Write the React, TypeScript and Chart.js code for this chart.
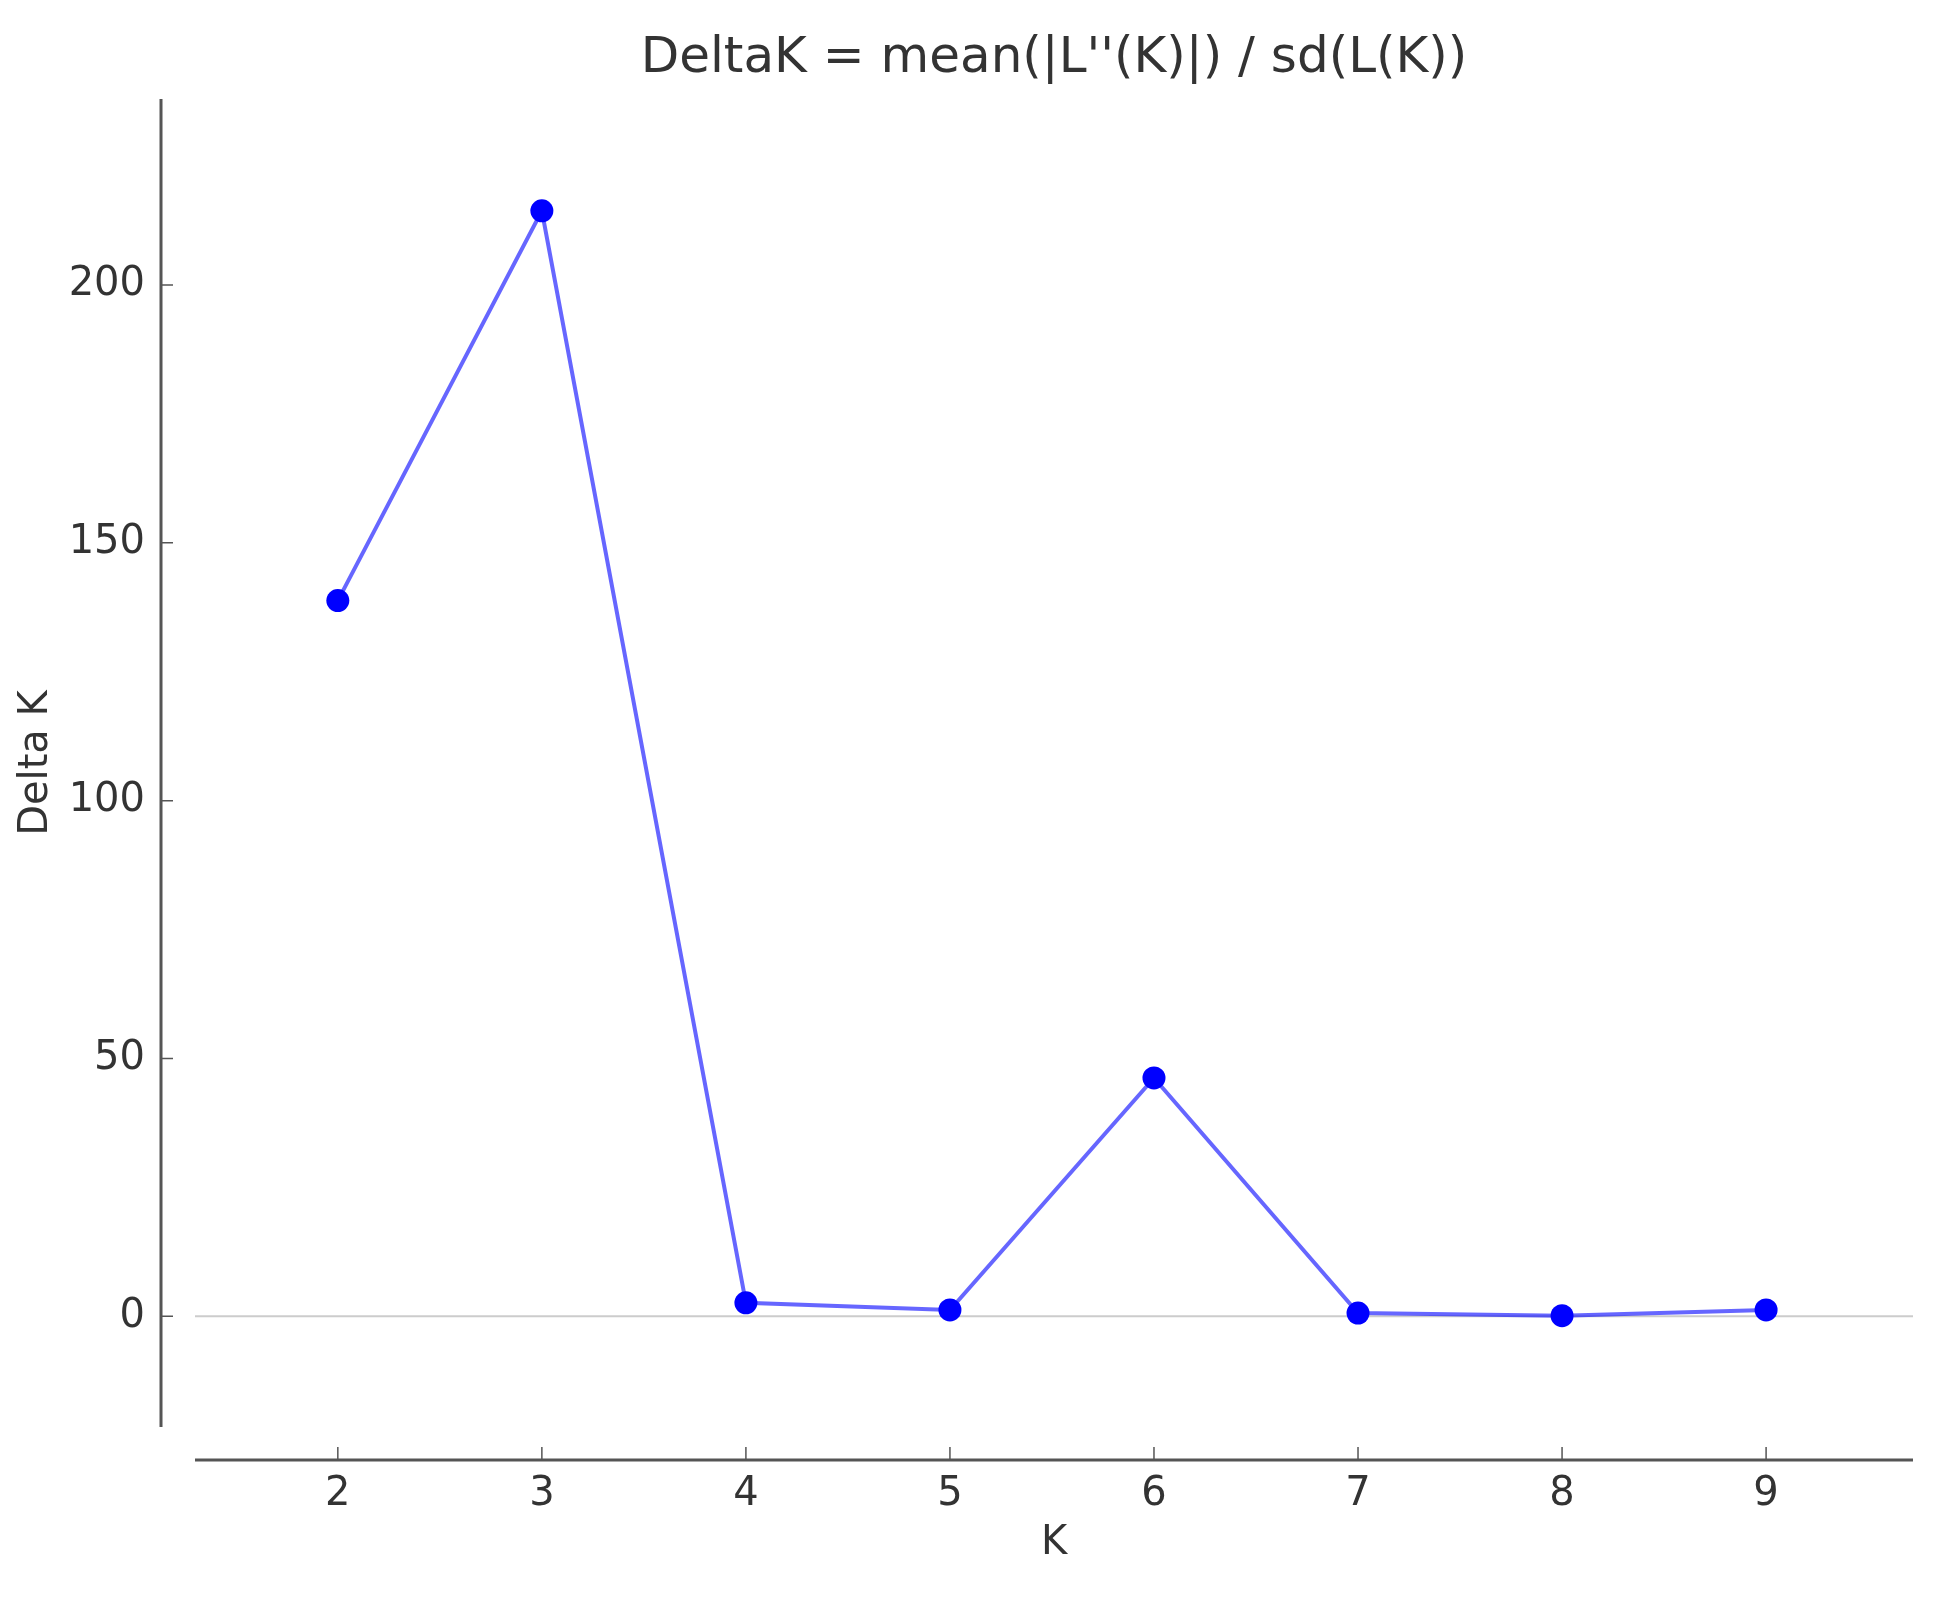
import React, { useEffect, useRef } from "react";
import { Chart, registerables } from "chart.js";

Chart.register(...registerables);

const kValues: number[] = [2, 3, 4, 5, 6, 7, 8, 9];
const deltaK: number[] = [138.8, 214.4, 2.6, 1.2, 46.2, 0.6, 0.1, 1.2];
const xTicks: number[] = [2, 3, 4, 5, 6, 7, 8, 9];
const yTicks: number[] = [0, 50, 100, 150, 200];
const titleText = "DeltaK = mean(|L''(K)|) / sd(L(K))";
const xLabel = "K";
const yLabel = "Delta K";

const FONT = "'DejaVu Sans', sans-serif";
const SPINE = "#555555";

const spinesPlugin = {
  id: "offsetSpines",
  beforeDatasetsDraw(chart: any) {
    const { ctx, chartArea, scales } = chart;
    const y0 = scales.y.getPixelForValue(0);
    ctx.save();
    ctx.strokeStyle = "#cccccc";
    ctx.lineWidth = 2;
    ctx.beginPath();
    ctx.moveTo(chartArea.left, y0);
    ctx.lineTo(chartArea.right, y0);
    ctx.stroke();
    ctx.restore();
  },
  afterDraw(chart: any) {
    const { ctx, chartArea, scales } = chart;
    const sx = chartArea.left - 34;
    const sy = chartArea.bottom + 33;
    ctx.save();
    ctx.strokeStyle = SPINE;
    ctx.lineWidth = 3;
    ctx.beginPath();
    ctx.moveTo(sx, chartArea.top);
    ctx.lineTo(sx, chartArea.bottom);
    ctx.moveTo(chartArea.left, sy);
    ctx.lineTo(chartArea.right, sy);
    ctx.stroke();
    ctx.lineWidth = 1.5;
    ctx.beginPath();
    yTicks.forEach((v) => {
      const p = scales.y.getPixelForValue(v);
      ctx.moveTo(sx, p);
      ctx.lineTo(sx + 12, p);
    });
    xTicks.forEach((v) => {
      const p = scales.x.getPixelForValue(v);
      ctx.moveTo(p, sy);
      ctx.lineTo(p, sy - 13);
    });
    ctx.stroke();
    // title centred over the axes
    ctx.fillStyle = "#333333";
    ctx.font = "50px " + FONT;
    ctx.textAlign = "center";
    ctx.textBaseline = "middle";
    ctx.fillText(titleText, (chartArea.left + chartArea.right) / 2, 59);
    ctx.restore();
  },
};

export default function App() {
  const ref = useRef<HTMLCanvasElement | null>(null);
  useEffect(() => {
    document.body.style.margin = "0";
    if (!ref.current) return;
    const chart = new Chart(ref.current, {
      type: "line",
      data: {
        datasets: [
          {
            data: kValues.map((k, i) => ({ x: k, y: deltaK[i] })),
            borderColor: "rgba(0,0,255,0.6)",
            borderWidth: 4,
            pointRadius: 11.5,
            pointBackgroundColor: "#0000ff",
            pointBorderWidth: 0,
            tension: 0,
            fill: false,
          },
        ],
      },
      options: {
        responsive: false,
        animation: false,
        devicePixelRatio: 1,
        layout: { padding: { left: 0, right: 29, top: 99, bottom: 0 } },
        plugins: {
          legend: { display: false },
          tooltip: { enabled: false },
          title: { display: false },
        },
        scales: {
          x: {
            type: "linear",
            min: 1.3,
            max: 9.72,
            grid: { display: false, drawTicks: false },
            border: { display: false },
            afterBuildTicks: (s: any) => {
              s.ticks = xTicks.map((v) => ({ value: v }));
            },
            afterFit: (s: any) => {
              s.height = 175;
            },
            ticks: {
              color: "#333333",
              font: { family: FONT, size: 40 },
              padding: 44,
              maxRotation: 0,
              autoSkip: false,
            },
            title: {
              display: true,
              text: xLabel,
              color: "#333333",
              font: { family: FONT, size: 40 },
              padding: { top: 0, bottom: 34 },
            },
          },
          y: {
            type: "linear",
            min: -21.5,
            max: 236.1,
            grid: { display: false, drawTicks: false },
            border: { display: false },
            afterBuildTicks: (s: any) => {
              s.ticks = yTicks.map((v) => ({ value: v }));
            },
            afterFit: (s: any) => {
              s.width = 195;
            },
            ticks: {
              color: "#333333",
              font: { family: FONT, size: 40 },
              padding: 50,
              autoSkip: false,
            },
            title: {
              display: true,
              text: yLabel,
              color: "#333333",
              font: { family: FONT, size: 40 },
              padding: { top: 13, bottom: 0 },
            },
          },
        },
      },
      plugins: [spinesPlugin],
    });
    return () => chart.destroy();
  }, []);
  return <canvas ref={ref} width={1942} height={1602} style={{ display: "block" }} />;
}
